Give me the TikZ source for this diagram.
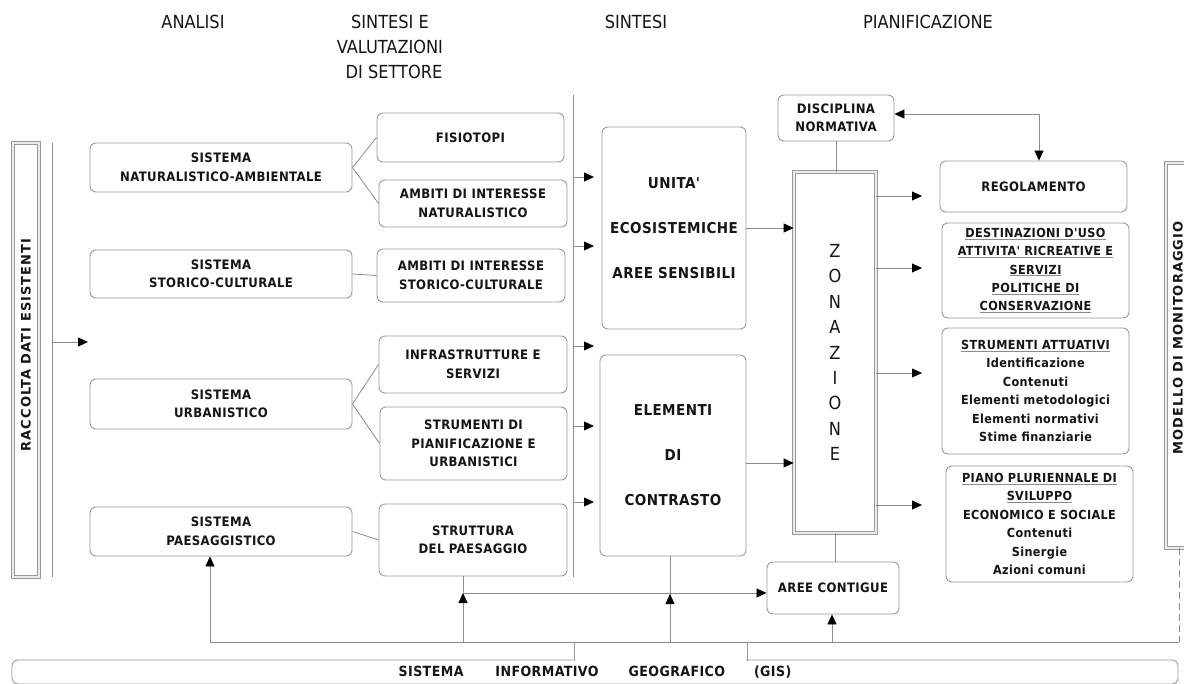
\documentclass[tikz,border=0pt]{standalone}
\usepackage{fontspec}
\setmainfont{DejaVu Sans}
\newfontfamily\hdfont{DejaVu Sans Condensed}
\newfontfamily\bxfont{DejaVu Sans Condensed Bold}[LetterSpace=3]
\newfontfamily\vtfont{DejaVu Sans Bold}[LetterSpace=8]
\usetikzlibrary{arrows.meta}
\definecolor{bordergray}{HTML}{9A9A9A}
\definecolor{linegray}{HTML}{8C8C8C}
\definecolor{txt}{HTML}{151515}
\newcommand\ulg[1]{{\color{linegray}\underline{\color{txt}#1}}}
\begin{document}
\begin{tikzpicture}[x=1pt,y=-1pt,
  box/.style={draw=bordergray, line width=0.9pt, rounded corners=6pt, fill=white, align=center,
    inner sep=0pt, text=txt, font=\bxfont\fontsize{13}{18.5}\selectfont},
  bigbox/.style={box, font=\bxfont\fontsize{15}{45}\selectfont},
  listbox/.style={box, font=\bxfont\fontsize{12.5}{18.4}\selectfont},
  frame/.style={draw=bordergray, line width=0.8pt, double=black!8, double distance=2pt, fill=white, inner sep=0pt},
  hd/.style={text=txt, align=center, inner sep=0pt, font=\hdfont\fontsize{18}{25}\selectfont},
  vt/.style={text=txt, inner sep=0pt, font=\vtfont\fontsize{13}{13}\selectfont},
  conn/.style={draw=linegray, line width=0.8pt},
  arr/.style={conn, -{Triangle[length=10pt,width=9pt,color=black]}},
  dbl/.style={conn, {Triangle[length=10pt,width=9pt,color=black]}-{Triangle[length=10pt,width=9pt,color=black]}}
]
\useasboundingbox (0,0) rectangle (1184,684);
\fill[white] (0,0) rectangle (1184,684);

% headers
\node[hd] (hA) at (193,22) {ANALISI};
\node[hd] (hB) at (390,47) {SINTESI E\\VALUTAZIONI\\\hspace*{8pt}DI SETTORE};
\node[hd] (hC) at (636,22) {SINTESI};
\node[hd] (hD) at (928,22) {PIANIFICAZIONE};

% left frame
\node[frame, minimum width=26pt, minimum height=434pt] (racc) at (26,360) {};
\node[vt, rotate=90] (racct) at (26,345) {RACCOLTA DATI ESISTENTI};
\coordinate (rT) at (52,143);
\coordinate (rB) at (52,577);
\draw[conn] (rT) -- (rB);
\coordinate (rA) at (52,342);
\coordinate (rAe) at (88,342);
\draw[arr] (rA) -- (rAe);

% analisi boxes
\node[box, minimum width=262pt, minimum height=49pt] (nat) at (221,167.5) {SISTEMA\\NATURALISTICO-AMBIENTALE};
\node[box, minimum width=262pt, minimum height=48pt] (stor) at (221,274) {SISTEMA\\STORICO-CULTURALE};
\node[box, minimum width=262pt, minimum height=50pt] (urb) at (221,404) {SISTEMA\\URBANISTICO};
\node[box, minimum width=262pt, minimum height=49pt] (paes) at (221,531.5) {SISTEMA\\PAESAGGISTICO};

% settore boxes
\node[box, minimum width=187pt, minimum height=49pt] (fis) at (470.5,137.5) {FISIOTOPI};
\node[box, minimum width=188pt, minimum height=47pt] (ambnat) at (473,203.5) {AMBITI DI INTERESSE\\NATURALISTICO};
\node[box, minimum width=188pt, minimum height=53pt] (ambstor) at (471,275.5) {AMBITI DI INTERESSE\\STORICO-CULTURALE};
\node[box, minimum width=188pt, minimum height=57pt] (infra) at (473,364.5) {INFRASTRUTTURE E\\SERVIZI};
\node[box, minimum width=187pt, minimum height=73pt] (strpian) at (473.5,443.5) {STRUMENTI DI\\PIANIFICAZIONE E\\URBANISTICI};
\node[box, minimum width=188pt, minimum height=72pt] (strutt) at (473,540) {STRUTTURA\\DEL PAESAGGIO};

\draw[conn] (nat.east) -- (fis.west);
\draw[conn] (nat.east) -- (ambnat.west);
\draw[conn] (stor.east) -- (ambstor.west);
\draw[conn] (urb.east) -- (infra.west);
\draw[conn] (urb.east) -- (strpian.west);
\draw[conn] (paes.east) -- (strutt.west);

% separator and arrows
\coordinate (sT) at (573,95);
\coordinate (sB) at (573,577);
\draw[conn] (sT) -- (sB);
\foreach \i/\yy in {1/177,2/246,3/346,4/426,5/502}{
  \coordinate (s\i) at (573,\yy);
  \coordinate (t\i) at (594,\yy);
  \draw[arr] (s\i) -- (t\i);
}

% sintesi boxes
\node[bigbox, minimum width=144pt, minimum height=202pt] (unita) at (674,228) {UNITA'\\ECOSISTEMICHE\\AREE SENSIBILI};
\node[bigbox, minimum width=146pt, minimum height=201pt] (elem) at (673,455.5) {ELEMENTI\\DI\\CONTRASTO};

% zonazione
\node[frame, minimum width=82pt, minimum height=361pt, text=txt, align=center,
  font=\hdfont\fontsize{18}{25.4}\selectfont] (zon) at (835,352.5) {Z\\O\\N\\A\\Z\\I\\O\\N\\E};
\node[box, minimum width=116pt, minimum height=46pt] (disc) at (836,118) {DISCIPLINA\\NORMATIVA};
\draw[conn] (disc.south) -- (disc.south |- zon.north);
\draw[arr] (unita.east) -- (unita.east -| zon.west);
\draw[arr] ([yshift=-7.5pt]elem.east) -- ([yshift=-7.5pt]elem.east -| zon.west);

% pianificazione boxes
\node[box, minimum width=187pt, minimum height=51pt] (reg) at (1033.5,186.5) {REGOLAMENTO};
\node[listbox, minimum width=187pt, minimum height=95pt] (dest) at (1035.5,270.5)
  {\ulg{DESTINAZIONI D'USO}\\\ulg{ATTIVITA' RICREATIVE E}\\\ulg{SERVIZI}\\\ulg{POLITICHE DI}\\\ulg{CONSERVAZIONE}};
\node[listbox, minimum width=187pt, minimum height=126pt] (stratt) at (1035.5,391)
  {\ulg{STRUMENTI ATTUATIVI}\\Identificazione\\Contenuti\\Elementi metodologici\\Elementi normativi\\Stime finanziarie};
\node[listbox, minimum width=187pt, minimum height=116pt] (piano) at (1039.5,524)
  {\ulg{PIANO PLURIENNALE DI}\\\ulg{SVILUPPO}\\ECONOMICO E SOCIALE\\Contenuti\\Sinergie\\Azioni comuni};

\draw[dbl] ([yshift=4pt]disc.east) -| ([xshift=5.5pt]reg.north);
\foreach \i/\yy in {1/196,2/268,3/373,4/505}{
  \coordinate (z\i) at (876,\yy);
  \coordinate (p\i) at (922,\yy);
  \draw[arr] (z\i) -- (p\i);
}

% monitoraggio
\node[frame, minimum width=26pt, minimum height=385pt] (mod) at (1179,355.5) {};
\node[vt, rotate=90] (modt) at (1178,338) {MODELLO DI MONITORAGGIO};

% aree contigue
\node[box, minimum width=132pt, minimum height=52pt] (aree) at (833,588) {AREE CONTIGUE};
\draw[conn] (zon.south) -- (zon.south |- aree.north);

% GIS
\node[box, minimum width=1166pt, minimum height=24pt, font=\bxfont\fontsize{14}{14}\selectfont] (gis) at (595,672)
  {SISTEMA\hspace{32pt}INFORMATIVO\hspace{30pt}GEOGRAFICO\hspace{29pt}(GIS)};
\fill[white] (574.6,642.5) rectangle (746.4,661.5);
\coordinate (tabL) at (574,661);
\coordinate (tabR) at (747,661);
\draw[draw=bordergray, line width=0.9pt] (tabL) -- (tabL |- 0,642);
\draw[draw=bordergray, line width=0.9pt] (tabR) -- (tabR |- 0,642);

% bottom connectors
\coordinate (bL) at (210,642);
\coordinate (bR) at (1179,642);
\draw[conn] (bL) -- (bR);
\draw[arr] (bL) -- (bL |- paes.south);
\coordinate (b1) at (463,642);
\coordinate (h1) at (463,593);
\draw[conn] (b1 |- strutt.south) -- (b1);
\draw[arr] (b1) -- (h1);
\draw[arr] (h1) -- (h1 -| aree.west);
\coordinate (b2) at (670,642);
\coordinate (h2) at (670,594);
\draw[conn] (b2 |- elem.south) -- (b2);
\draw[arr] (b2) -- (h2);
\coordinate (b3) at (832,642);
\draw[arr] (b3) -- (b3 |- aree.south);
\draw[conn, dash pattern=on 7pt off 4pt] (mod.south) -- (bR);
\end{tikzpicture}
\end{document}
